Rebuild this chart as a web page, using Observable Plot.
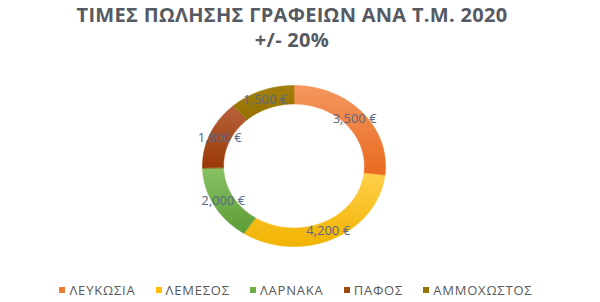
<!DOCTYPE html>
<html><head><meta charset="utf-8">
<script src="https://cdn.jsdelivr.net/npm/d3@7"></script>
<script src="https://cdn.jsdelivr.net/npm/@observablehq/plot@0.6"></script>
<style>
body{margin:0;background:#fff;font-family:"Open Sans",sans-serif;}
#wrap{width:600px;height:302px;position:relative;overflow:hidden;background:#fff}
#title{position:absolute;top:0;left:-8px;width:600px;text-align:center;font-weight:700;font-size:20px;line-height:25px;padding-top:2px;color:#565a62;letter-spacing:0.3px}
#chart{position:absolute;top:55px;left:0}
#legend{position:absolute;top:282px;left:-4px;width:600px;height:16px;display:flex;justify-content:center;align-items:center;font-size:13px;letter-spacing:0.8px;color:#595959}
.item{display:flex;align-items:center;margin:0 10px}
.sw{width:6px;height:6px;margin-right:4px}
</style></head><body>
<div id="wrap">
<div id="title">ΤΙΜΕΣ ΠΩΛΗΣΗΣ ΓΡΑΦΕΙΩΝ ΑΝΑ Τ.Μ. 2020<br>+/- 20%</div>
<div id="chart"></div>
<div id="legend"></div>
</div>
<script>
const regions = ["ΛΕΥΚΩΣΙΑ", "ΛΕΜΕΣΟΣ", "ΛΑΡΝΑΚΑ", "ΠΑΦΟΣ", "ΑΜΜΟΧΩΣΤΟΣ"];
const values = [3500, 4200, 2000, 1800, 1500];
const colors = ["#ED7D31", "#FFC000", "#70AD47", "#9E480E", "#997300"];
const lightColors = ["#f4975e", "#ffd04a", "#88c264", "#b8623a", "#a3800f"];
const darkColors = ["#e86a1e", "#f1b300", "#5c9c36", "#9a3806", "#937000"];

const R = 1, r = 0.77;
const arcs = d3.pie().sort(null).value(d => d)(values);
const pts = [];
arcs.forEach((a, i) => {
  const n = Math.max(8, Math.ceil((a.endAngle - a.startAngle) / 0.02));
  for (let k = 0; k <= n; k++) {
    const t = a.startAngle + (a.endAngle - a.startAngle) * k / n;
    pts.push({region: regions[i], x: R * Math.sin(t), y: R * Math.cos(t)});
  }
  for (let k = n; k >= 0; k--) {
    const t = a.startAngle + (a.endAngle - a.startAngle) * k / n;
    pts.push({region: regions[i], x: r * Math.sin(t), y: r * Math.cos(t)});
  }
});
const fmt = d3.format(",");
const labels = arcs.map((a, i) => {
  const m = (a.startAngle + a.endAngle) / 2, rm = (R + r) / 2;
  return {x: rm * Math.sin(m), y: rm * Math.cos(m), label: fmt(values[i]) + " €"};
});

const plot = Plot.plot({
  width: 600, height: 215,
  marginLeft: 202, marginRight: 215, marginTop: 30, marginBottom: 24,
  x: {domain: [-1, 1], axis: null},
  y: {domain: [-1, 1], axis: null},
  marks: [
    ...regions.map((reg, i) => Plot.line(pts.filter(p => p.region === reg), {
      x: "x", y: "y", curve: "linear-closed",
      fill: `url(#grad${i})`, stroke: `url(#grad${i})`, strokeWidth: 0.6
    })),
    Plot.text(labels, {x: "x", y: "y", text: "label", fill: "#5a6784", fontSize: 13, fontFamily: "Open Sans"})
  ]
});
const defs = d3.select(plot).insert("defs", ":first-child");
colors.forEach((c, i) => {
  const g = defs.append("linearGradient").attr("id", `grad${i}`)
    .attr("x1", 0).attr("y1", 0).attr("x2", 0).attr("y2", 1);
  g.append("stop").attr("offset", "0%").attr("stop-color", lightColors[i]);
  g.append("stop").attr("offset", "100%").attr("stop-color", darkColors[i]);
});
document.getElementById("chart").appendChild(plot);

const legend = document.getElementById("legend");
regions.forEach((reg, i) => {
  const it = document.createElement("div"); it.className = "item";
  const sw = document.createElement("div"); sw.className = "sw"; sw.style.background = colors[i];
  const tx = document.createElement("span"); tx.textContent = reg;
  it.appendChild(sw); it.appendChild(tx); legend.appendChild(it);
});
</script>
</body></html>
